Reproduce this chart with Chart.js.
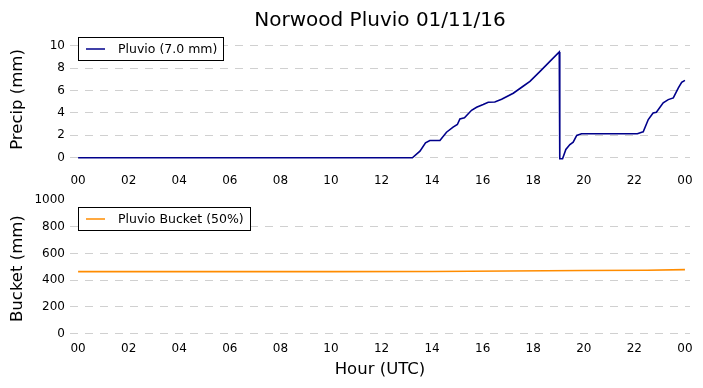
<!DOCTYPE html>
<html>
<head>
<meta charset="utf-8">
<script src="https://cdn.jsdelivr.net/npm/chart.js@4.4.0/dist/chart.umd.min.js"></script>
<style>
html, body { margin: 0; padding: 0; background: #fff; }
#chart1 { position: absolute; left: 0; top: 0; }
#chart2 { position: absolute; left: 0; top: 188px; }
</style>
</head>
<body>
<canvas id="chart1" width="703" height="190"></canvas>
<canvas id="chart2" width="703" height="200"></canvas>
<script>
// data (hours since 00 UTC)
const titleText = "Norwood Pluvio 01/11/16";
const hourTicks = [0, 2, 4, 6, 8, 10, 12, 14, 16, 18, 20, 22, 24];
const hourLabels = ["00", "02", "04", "06", "08", "10", "12", "14", "16", "18", "20", "22", "00"];
const precipTicks = [0, 2, 4, 6, 8, 10];
const bucketTicks = [0, 200, 400, 600, 800, 1000];

const precipHours = [0, 13.22, 13.52, 13.74, 13.91, 14.31, 14.57, 14.83, 15.0, 15.1,
  15.28, 15.56, 15.76, 16.02, 16.22, 16.48, 16.75, 17.21, 17.6, 17.87,
  18.27, 18.66, 19.03, 19.05, 19.16, 19.29, 19.45, 19.58, 19.72, 19.91,
  22.12, 22.29, 22.35, 22.55, 22.74, 22.87, 23.14, 23.34, 23.54, 23.74,
  23.87, 24.0];
const precip = [0, 0, 0.59, 1.33, 1.54, 1.54, 2.28, 2.73, 2.97, 3.47,
  3.56, 4.24, 4.51, 4.75, 4.95, 4.98, 5.22, 5.76, 6.38, 6.82,
  7.71, 8.6, 9.44, -0.09, -0.09, 0.74, 1.18, 1.39, 1.99, 2.14,
  2.14, 2.28, 2.31, 3.41, 4.0, 4.06, 4.9, 5.19, 5.34, 6.23,
  6.73, 6.91];

const bucketHours = [0, 10, 14, 17, 20, 22.5, 24];
const bucket = [465, 465, 466, 469, 473, 475, 480];

Chart.defaults.font.family = '"DejaVu Sans", sans-serif';
Chart.defaults.color = "#000";

const gridCol = "#d0d0d0";

// legend drawn in a framed box at the upper left of the plot
const boxLegend = {
  id: "boxLegend",
  afterDraw(chart) {
    const ds = chart.data.datasets[0];
    const ctx = chart.ctx, a = chart.chartArea;
    ctx.save();
    ctx.font = '12.5px "DejaVu Sans"';
    const w = Math.round(40 + ctx.measureText(ds.label).width + 6);
    const x = Math.round(a.left + 8), y = Math.round(a.top + 7), h = 23;
    ctx.fillStyle = "#fff";
    ctx.fillRect(x, y, w, h);
    ctx.strokeStyle = "#000";
    ctx.lineWidth = 1;
    ctx.strokeRect(x + 0.5, y + 0.5, w, h);
    ctx.strokeStyle = ds.borderColor;
    ctx.lineWidth = 1.5;
    ctx.beginPath();
    ctx.moveTo(x + 8, y + h / 2 + 0.5);
    ctx.lineTo(x + 27, y + h / 2 + 0.5);
    ctx.stroke();
    ctx.fillStyle = "#000";
    ctx.textBaseline = "middle";
    ctx.fillText(ds.label, x + 40, y + h / 2 + 1);
    ctx.restore();
  }
};

const topTitle = {
  id: "topTitle",
  afterDraw(chart) {
    const ctx = chart.ctx, a = chart.chartArea;
    ctx.save();
    ctx.font = '20px "DejaVu Sans"';
    ctx.fillStyle = "#000";
    ctx.textAlign = "center";
    ctx.textBaseline = "middle";
    ctx.fillText(titleText, (a.left + a.right) / 2, 21);
    ctx.restore();
  }
};

function xScale(h, title) {
  return {
    type: "linear",
    min: -0.32,
    max: 24.2,
    afterBuildTicks: s => { s.ticks = hourTicks.map(v => ({ value: v })); },
    afterFit: s => { s.height = h; },
    ticks: {
      callback: (v, i) => hourLabels[i],
      font: { size: 12 },
      padding: 5,
      maxRotation: 0,
      autoSkip: false
    },
    grid: { display: false, drawTicks: false },
    border: { display: false },
    title: title ? {
      display: true,
      text: title,
      font: { size: 16.5 },
      padding: { top: 0, bottom: 8 }
    } : { display: false }
  };
}

function yScale(min, max, ticks, title, hideTop) {
  return {
    min: min,
    max: max,
    afterBuildTicks: s => { s.ticks = ticks.map(v => ({ value: v })); },
    afterFit: s => { s.width = 70; },
    ticks: { font: { size: 12 }, padding: 5, callback: v => String(v) },
    grid: {
      drawTicks: false,
      lineWidth: 1,
      color: c => (hideTop && c.tick && c.tick.value === max) ? "rgba(0,0,0,0)" : gridCol
    },
    border: { display: false, dash: [8, 7] },
    title: {
      display: true,
      text: title,
      font: { size: 16.5 },
      padding: { top: 8, bottom: 0 }
    }
  };
}

const chart1 = document.getElementById("chart1");
var stat1 = new Chart(chart1, {
  type: "line",
  data: {
    datasets: [{
      label: "Pluvio (7.0 mm)",
      data: precipHours.map((h, i) => ({ x: h, y: precip[i] })),
      borderColor: "#00008b",
      borderWidth: 1.6,
      pointRadius: 0,
      tension: 0,
      fill: false
    }]
  },
  options: {
    responsive: false,
    animation: false,
    devicePixelRatio: 1,
    layout: { autoPadding: false, padding: { top: 30, right: 13, left: 0, bottom: 0 } },
    plugins: { legend: { display: false }, tooltip: { enabled: false } },
    scales: {
      x: xScale(21, null),
      y: yScale(-1, 11.4, precipTicks, "Precip (mm)", false)
    }
  },
  plugins: [boxLegend, topTitle]
});

const chart2 = document.getElementById("chart2");
var stat2 = new Chart(chart2, {
  type: "line",
  data: {
    datasets: [{
      label: "Pluvio Bucket (50%)",
      data: bucketHours.map((h, i) => ({ x: h, y: bucket[i] })),
      borderColor: "#ff8c00",
      borderWidth: 1.6,
      pointRadius: 0,
      tension: 0,
      fill: false
    }]
  },
  options: {
    responsive: false,
    animation: false,
    devicePixelRatio: 1,
    layout: { autoPadding: false, padding: { top: 8, right: 13, left: 0, bottom: 0 } },
    plugins: { legend: { display: false }, tooltip: { enabled: false } },
    scales: {
      x: xScale(51, "Hour (UTC)"),
      y: yScale(-25, 1000, bucketTicks, "Bucket (mm)", true)
    }
  },
  plugins: [boxLegend]
});
</script>
</body>
</html>
